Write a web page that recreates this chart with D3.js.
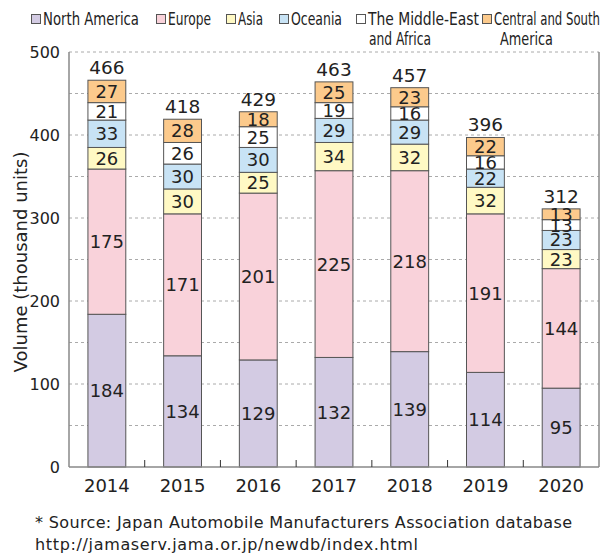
<!DOCTYPE html>
<html><head><meta charset="utf-8">
<script src="https://cdn.jsdelivr.net/npm/d3@7"></script>
<style>body{margin:0;background:#fff}svg{display:block}</style>
</head><body>
<script>
const years = ["2014","2015","2016","2017","2018","2019","2020"];
const seriesNames = ["North America","Europe","Asia","Oceania","The Middle-East and Africa","Central and South America"];
const northAmerica = [184,134,129,132,139,114,95];
const europe = [175,171,201,225,218,191,144];
const asia = [26,30,25,34,32,32,23];
const oceania = [33,30,30,29,29,22,23];
const middleEastAfrica = [21,26,25,19,16,16,13];
const centralSouthAmerica = [27,28,18,25,23,22,13];
const totals = [466,418,429,463,457,396,312];
const yTicks = [0,100,200,300,400,500];
const colors = ["#d3cbe3","#f9d2da","#fff9c4","#c8e3f5","#ffffff","#fcca8c"];

const W=604,H=556;
const m={l:69,r:5,t:52,b:89};
const svg=d3.select("body").append("svg").attr("width",W).attr("height",H);
const x=d3.scaleBand().domain(years).range([m.l,W-m.r]).paddingInner(0.5).paddingOuter(0.25);
const y=d3.scaleLinear().domain([0,500]).range([H-m.b,m.t]);
const font="DejaVu Sans, Verdana, sans-serif";

// grid lines every 50
const grid=d3.range(50,501,50);
svg.append("g").selectAll("line").data(grid).join("line")
 .attr("x1",m.l).attr("x2",W-m.r).attr("y1",d=>y(d)).attr("y2",d=>y(d))
 .attr("stroke","#aaa").attr("stroke-dasharray","3,3").attr("stroke-width",1);

// axes
svg.append("line").attr("x1",m.l).attr("x2",m.l).attr("y1",y(500)).attr("y2",y(0)).attr("stroke","#888").attr("stroke-width",1.5);
svg.append("line").attr("x1",W-m.r).attr("x2",W-m.r).attr("y1",y(500)).attr("y2",y(0)).attr("stroke","#888").attr("stroke-width",1.5);

const yAxis=d3.axisLeft(y).tickValues(yTicks).tickSize(0).tickPadding(9);
const gy=svg.append("g").attr("transform",`translate(${m.l},0)`).call(yAxis);
gy.select(".domain").remove();
gy.selectAll("text").attr("font-family",font).attr("font-size",16).attr("fill","#222");

// stacked data
const rows=years.map((yr,i)=>({year:yr,v:[northAmerica[i],europe[i],asia[i],oceania[i],middleEastAfrica[i],centralSouthAmerica[i]]}));
const keys=d3.range(6);
const stack=d3.stack().keys(keys).value((d,k)=>d.v[k]);
const layers=stack(rows);

const bw=x.bandwidth();
layers.forEach((layer,k)=>{
  const g=svg.append("g");
  g.selectAll("rect").data(layer).join("rect")
   .attr("x",d=>x(d.data.year)).attr("width",bw)
   .attr("y",d=>y(d[1])).attr("height",d=>y(d[0])-y(d[1]))
   .attr("fill",colors[k]).attr("stroke","#555").attr("stroke-width",1);
  g.selectAll("text").data(layer).join("text")
   .attr("x",d=>x(d.data.year)+bw/2).attr("y",d=>(y(d[0])+y(d[1]))/2)
   .attr("dy","0.36em").attr("text-anchor","middle")
   .attr("font-family",font).attr("font-size",18).attr("fill","#222")
   .text(d=>d.data.v[k]);
});

// totals
svg.append("g").selectAll("text").data(rows).join("text")
 .attr("x",d=>x(d.year)+bw/2).attr("y",(d,i)=>y(d3.sum(d.v))-6)
 .attr("text-anchor","middle").attr("font-family",font).attr("font-size",18.5).attr("fill","#222")
 .text((d,i)=>totals[i]);

// x axis line and ticks
svg.append("line").attr("x1",m.l).attr("x2",W-m.r).attr("y1",y(0)).attr("y2",y(0)).attr("stroke","#888").attr("stroke-width",1.5);
const step=x.step();
svg.append("g").selectAll("line").data(years.slice(1)).join("line")
 .attr("x1",d=>x(d)-step*0.25).attr("x2",d=>x(d)-step*0.25)
 .attr("y1",y(0)).attr("y2",y(0)-7).attr("stroke","#333");
const xAxis=d3.axisBottom(x).tickSize(0).tickPadding(12);
const gx=svg.append("g").attr("transform",`translate(0,${y(0)})`).call(xAxis);
gx.select(".domain").remove();
gx.selectAll("text").attr("font-family",font).attr("font-size",18).attr("fill","#222");

// y title
svg.append("text").attr("transform",`translate(27,262) rotate(-90)`)
 .attr("text-anchor","middle").attr("font-family",font).attr("font-size",18).attr("fill","#222")
 .text("Volume (thousand units)");

// legend
const legFont="Liberation Sans Narrow, DejaVu Sans Condensed, sans-serif";
const legTextX=[43,168,238,291,368,494];
const legLines=[["North America"],["Europe"],["Asia"],["Oceania"],["The Middle-East","and Africa"],["Central and South","America"]];
const legLens=[[96],[43],[25],[51],[111,62],[106,53]];
const legIndent=[0,0,0,0,1,6];
const lg=svg.append("g");
legLines.forEach((lines,k)=>{
  lg.append("rect").attr("x",legTextX[k]-11.5).attr("y",14.5).attr("width",9).attr("height",9)
    .attr("fill",colors[k]).attr("stroke","#555");
  lines.forEach((t,j)=>{
    lg.append("text").attr("x",legTextX[k]+(j?legIndent[k]:0)).attr("y",25+j*20)
     .attr("font-family",legFont).attr("font-size",17).attr("fill","#222")
     .attr("textLength",legLens[k][j]).attr("lengthAdjust","spacingAndGlyphs").text(t);
  });
});

// source
svg.append("text").attr("x",35).attr("y",528).attr("font-family",font).attr("font-size",16).attr("fill","#222")
 .attr("textLength",537).attr("lengthAdjust","spacing")
 .text("* Source: Japan Automobile Manufacturers Association database");
svg.append("text").attr("x",35).attr("y",550).attr("font-family",font).attr("font-size",16).attr("fill","#222")
 .attr("textLength",383).attr("lengthAdjust","spacing")
 .text("http://jamaserv.jama.or.jp/newdb/index.html");
</script>
</body></html>
